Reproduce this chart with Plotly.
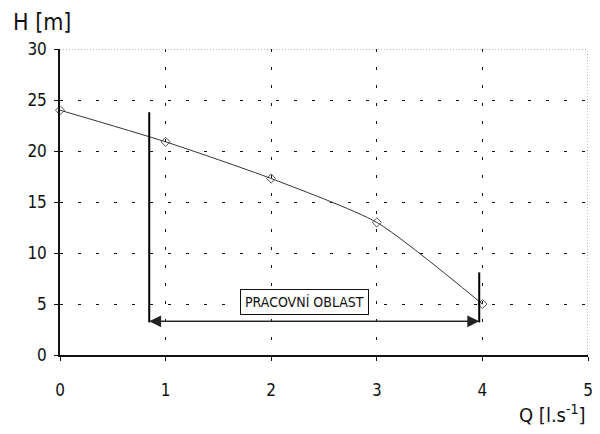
import plotly.graph_objects as go

Q = [0, 1, 2, 3, 4]
H = [24, 20.9, 17.3, 13.0, 5.0]

work_q = [0.845, 3.97]
left_bar_h = [3.2, 23.8]
right_bar_h = [3.2, 8.1]
arrow_h = 3.3
label_text = "PRACOVNÍ OBLAST"
label_q = 2.32
label_h = 5.2

x_ticks = [0, 1, 2, 3, 4, 5]
y_ticks = [0, 5, 10, 15, 20, 25, 30]

FONT = "DejaVu Sans Condensed, Liberation Sans Narrow, Liberation Sans, sans-serif"

fig = go.Figure()
fig.add_trace(go.Scatter(
    x=Q, y=H, mode="lines+markers", line=dict(color="#333", width=1, shape="spline", smoothing=0.6),
    marker=dict(symbol="diamond-open", size=7, color="#555", line=dict(width=1)),
    showlegend=False, cliponaxis=False))

fig.add_trace(go.Scatter(x=[work_q[0], work_q[0]], y=left_bar_h, mode="lines",
                         line=dict(color="#000", width=2), showlegend=False))
fig.add_trace(go.Scatter(x=[work_q[1], work_q[1]], y=right_bar_h, mode="lines",
                         line=dict(color="#000", width=2), showlegend=False))

for a, b in [(work_q[0], work_q[1]), (work_q[1], work_q[0])]:
    fig.add_annotation(x=b, y=arrow_h, ax=a, ay=arrow_h, xref="x", yref="y", axref="x", ayref="y",
                       showarrow=True, arrowhead=2, arrowsize=1.7, arrowwidth=1.4, arrowcolor="#222", text="")

fig.add_annotation(x=label_q, y=label_h, xref="x", yref="y", text=label_text, showarrow=False,
                   font=dict(family=FONT, size=14, color="#111"), bordercolor="#111", borderwidth=1,
                   borderpad=4, bgcolor="white")

# top and right frame (fine dotted)
fig.add_shape(type="line", xref="x", yref="y", x0=0, x1=5, y0=30, y1=30,
              line=dict(color="#777", width=1, dash="1px,2px"))
fig.add_shape(type="line", xref="x", yref="y", x0=5, x1=5, y0=0, y1=30,
              line=dict(color="#777", width=1, dash="1px,2px"))

fig.add_annotation(x=0, y=1, xref="paper", yref="paper", xshift=-49, yshift=12, text="H [m]",
                   showarrow=False, xanchor="left", yanchor="bottom",
                   font=dict(family=FONT, size=23, color="#111"))
fig.add_annotation(x=1, y=0, xref="paper", yref="paper", yshift=-44, text="Q [l.s<sup>-1</sup>]",
                   showarrow=False, xanchor="right", yanchor="top",
                   font=dict(family=FONT, size=20, color="#111"))

axis_common = dict(showline=True, linecolor="#111", linewidth=1.5, gridcolor="#111", gridwidth=1,
                   griddash="3px,15px", ticks="outside", ticklen=4, tickcolor="#111", zeroline=False,
                   tickfont=dict(family=FONT, size=17, color="#111"), mirror=False)

fig.update_xaxes(range=[0, 5], tickvals=x_ticks, ticklabelstandoff=15, **axis_common)
fig.update_yaxes(range=[0, 30], tickvals=y_ticks, ticklabelstandoff=4, **axis_common)

fig.update_layout(width=600, height=434, margin=dict(l=60, r=7, t=49, b=79),
                  plot_bgcolor="white", paper_bgcolor="white")

fig.write_html("out.html", config={"displayModeBar": False},
               post_script="document.body.style.margin='0';")
